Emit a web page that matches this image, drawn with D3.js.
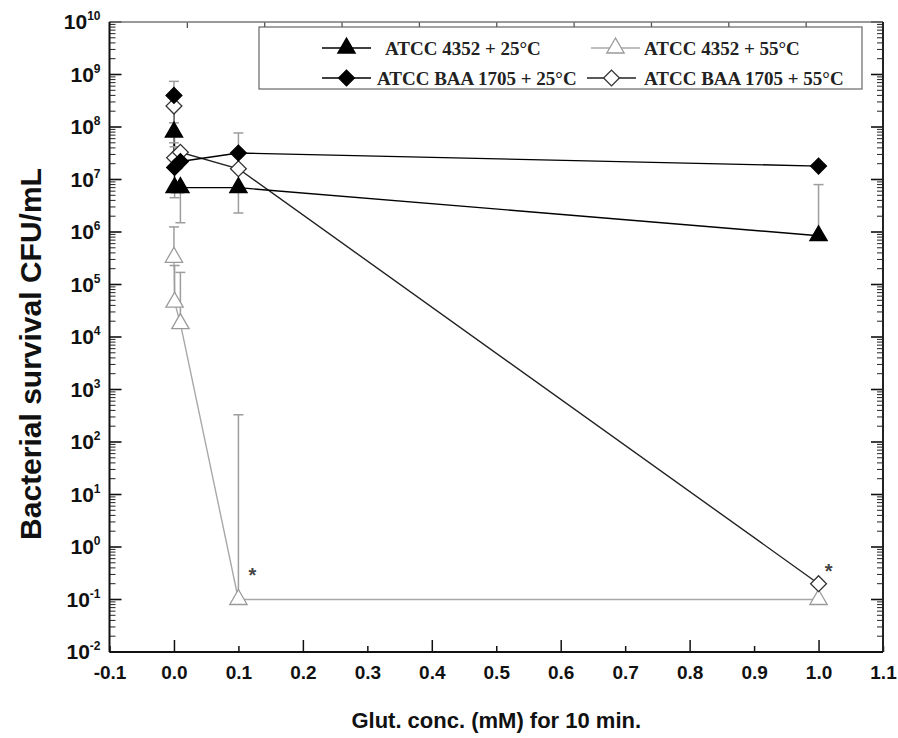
<!DOCTYPE html>
<html>
<head>
<meta charset="utf-8">
<script src="https://cdn.jsdelivr.net/npm/d3@7"></script>
<style>
  body { margin: 0; background: #fff; }
  svg text { font-family: "Liberation Sans", Arial, sans-serif; }
</style>
</head>
<body>
<div id="chart"></div>
<script>
// glutaraldehyde concentrations (mM)
const concs = [0, 0.001, 0.01, 0.1, 1.0];

// CFU/mL values, one array per series
const tri25 = [8e7, 7e6, 7e6, 7e6, 8.5e5];
const tri25Err = [5e7, 4.5e6, 1.5e6, 2.3e6, 8e6];
const tri55 = [3.3e5, 4.6e4, 1.8e4, 0.1, 0.1];
const tri55Err = [1.25e6, 2.3e5, 1.7e5, 330, null];
const dia25 = [4e8, 1.7e7, 2.2e7, 3.2e7, 1.8e7];
const dia25Err = [7.4e8, null, null, 7.7e7, null];
const dia55 = [2.5e8, 2.6e7, 3.3e7, 1.6e7, 0.2];
const dia55Err = [1.2e8, 4.2e7, null, null, null];

const seriesNames = ["ATCC 4352 + 25°C", "ATCC 4352 + 55°C", "ATCC BAA 1705 + 25°C", "ATCC BAA 1705 + 55°C"];
const xTicks = [-0.1, 0.0, 0.1, 0.2, 0.3, 0.4, 0.5, 0.6, 0.7, 0.8, 0.9, 1.0, 1.1];
const yExps = [-2, -1, 0, 1, 2, 3, 4, 5, 6, 7, 8, 9, 10];
const starPoints = [[0.1, 0.1], [1.0, 0.2]];

const W = 898, H = 738;
const margin = {top: 22, right: 15, bottom: 86, left: 109.5};
const plotW = W - margin.left - margin.right,
      plotH = H - margin.top - margin.bottom;

const svg = d3.select("#chart").append("svg")
  .attr("width", W).attr("height", H);
const g = svg.append("g")
  .attr("transform", "translate(" + margin.left + "," + margin.top + ")");

const xScale = d3.scaleLinear().domain([-0.1, 1.1]).range([0, plotW]);
const yScale = d3.scaleLog().domain([1e-2, 1e10]).range([plotH, 0]);

// series table built from the arrays above
const series = [
  {name: seriesNames[0], vals: tri25, err: tri25Err, shape: "tri", fill: "#000", stroke: "#000", line: "#000", order: 2},
  {name: seriesNames[1], vals: tri55, err: tri55Err, shape: "tri", fill: "#fff", stroke: "#9a9a9a", line: "#a8a8a8", order: 0},
  {name: seriesNames[2], vals: dia25, err: dia25Err, shape: "dia", fill: "#000", stroke: "#000", line: "#000", order: 3},
  {name: seriesNames[3], vals: dia55, err: dia55Err, shape: "dia", fill: "#fff", stroke: "#333", line: "#222", order: 1}
];

function markerPath(shape) {
  if (shape === "tri") return d3.symbol(d3.symbolTriangle, 130)();
  return d3.symbol(d3.symbolSquare, 125)();
}
function markerTransform(shape, x, y) {
  return "translate(" + x + "," + y + ")" + (shape === "dia" ? " rotate(45)" : "");
}

// ---- bottom axis (ticks pointing inward) ----
const xAxis = g.append("g")
  .attr("transform", "translate(0," + plotH + ")")
  .call(d3.axisBottom(xScale).tickValues(xTicks).tickSizeInner(-6).tickSizeOuter(0).tickPadding(14)
    .tickFormat(d => d.toFixed(1)));
xAxis.select(".domain").remove();
xAxis.selectAll(".tick line")
  .attr("y2", d => (Math.round(d * 10) % 2 === 0 && d >= 0 && d < 1.05) ? -12 : -6)
  .attr("stroke", "#111").attr("stroke-width", 1.5);
xAxis.selectAll(".tick text")
  .style("font-size", "19px").style("font-weight", "bold").attr("fill", "#111");

// ---- top axis: its own 10 divisions ----
const topScale = d3.scaleLinear().domain([0, 10]).range([0, plotW]);
const topAxis = g.append("g")
  .call(d3.axisTop(topScale).tickValues(d3.range(1, 10)).tickSizeInner(-6).tickSizeOuter(0).tickFormat(""));
topAxis.select(".domain").remove();
topAxis.selectAll(".tick line")
  .attr("y2", d => d % 2 === 0 ? 10 : 6)
  .attr("stroke", "#555").attr("stroke-width", 1.3);

// ---- left and right log axes with minor ticks ----
const minorVals = [];
yExps.slice(0, -1).forEach(e => { for (let m = 2; m <= 9; m++) minorVals.push(m * Math.pow(10, e)); });
const majorVals = yExps.map(e => Math.pow(10, e));

[["left", 0, 1], ["right", plotW, -1]].forEach(([side, x0, dir]) => {
  const ax = g.append("g").attr("class", "y-" + side);
  ax.selectAll("line.minor").data(minorVals).enter().append("line")
    .attr("x1", x0).attr("x2", x0 + dir * 6)
    .attr("y1", d => yScale(d)).attr("y2", d => yScale(d))
    .attr("stroke", "#222").attr("stroke-width", 1);
  ax.selectAll("line.major").data(majorVals).enter().append("line")
    .attr("x1", x0).attr("x2", x0 + dir * 12)
    .attr("y1", d => yScale(d)).attr("y2", d => yScale(d))
    .attr("stroke", "#111").attr("stroke-width", 1.6);
});

const yLabels = g.append("g").selectAll("text").data(yExps).enter().append("text")
  .attr("x", -9).attr("y", d => yScale(Math.pow(10, d)) + 7)
  .attr("text-anchor", "end")
  .style("font-size", "21px").style("font-weight", "bold").attr("fill", "#111");
yLabels.append("tspan").text("10");
yLabels.append("tspan").attr("dy", -9).style("font-size", "12px").text(d => d);

// ---- frame ----
g.append("line").attr("x1", 0).attr("x2", plotW).attr("y1", 0).attr("y2", 0)
  .attr("stroke", "#777").attr("stroke-width", 1.5);
g.append("line").attr("x1", plotW).attr("x2", plotW).attr("y1", 0).attr("y2", plotH)
  .attr("stroke", "#222").attr("stroke-width", 2);
g.append("line").attr("x1", 0).attr("x2", plotW).attr("y1", plotH).attr("y2", plotH)
  .attr("stroke", "#111").attr("stroke-width", 2);
g.append("line").attr("x1", 0).attr("x2", 0).attr("y1", 0).attr("y2", plotH)
  .attr("stroke", "#111").attr("stroke-width", 2);

// ---- lines ----
const lineGen = d3.line().x((d, i) => xScale(concs[i])).y(d => yScale(d));
const ordered = series.slice().sort((a, b) => a.order - b.order);

ordered.forEach(s => {
  g.append("path").datum(s.vals)
    .attr("d", lineGen).attr("fill", "none")
    .attr("stroke", s.line).attr("stroke-width", 1.4);
});

// ---- error bars (one-sided) ----
ordered.forEach(s => {
  const eb = g.append("g");
  s.err.forEach((e, i) => {
    if (e == null) return;
    const x = xScale(concs[i]);
    eb.append("line").attr("x1", x).attr("x2", x)
      .attr("y1", yScale(s.vals[i])).attr("y2", yScale(e))
      .attr("stroke", "#9d9d9d").attr("stroke-width", 1.5);
    eb.append("line").attr("x1", x - 5).attr("x2", x + 5)
      .attr("y1", yScale(e)).attr("y2", yScale(e))
      .attr("stroke", "#9d9d9d").attr("stroke-width", 1.5);
  });
});

// ---- markers ----
ordered.forEach(s => {
  g.append("g").selectAll("path").data(s.vals).enter().append("path")
    .attr("d", markerPath(s.shape))
    .attr("transform", (d, i) => markerTransform(s.shape, xScale(concs[i]), yScale(d)))
    .attr("fill", s.fill).attr("stroke", s.stroke).attr("stroke-width", 1.3);
});

// ---- significance stars ----
g.selectAll("text.star").data(starPoints).enter().append("text")
  .attr("class", "star")
  .attr("x", d => xScale(d[0]) + (d[1] < 0.15 ? 14 : 10))
  .attr("y", d => yScale(d[1]) - (d[1] < 0.15 ? 18 : 6))
  .attr("text-anchor", "middle")
  .style("font-size", "20px").style("font-weight", "bold").attr("fill", "#444")
  .text("*");

// ---- legend ----
const legend = svg.append("g").attr("transform", "translate(259,27)");
legend.append("rect").attr("width", 603).attr("height", 62)
  .attr("fill", "#fff").attr("stroke", "#666").attr("stroke-width", 1.2);
const legPos = [[63, 21], [332, 21], [63, 51], [328, 51]];
const legTextX = [63, 53, 55, 57];
series.forEach((s, i) => {
  const [lx, ly] = legPos[i];
  const item = legend.append("g").attr("transform", "translate(" + lx + "," + ly + ")");
  item.append("line").attr("x1", 0).attr("x2", 49).attr("y1", 0).attr("y2", 0)
    .attr("stroke", s.line).attr("stroke-width", 1.4);
  item.append("path").attr("d", markerPath(s.shape))
    .attr("transform", markerTransform(s.shape, 24.5, 0))
    .attr("fill", s.fill).attr("stroke", s.stroke).attr("stroke-width", 1.3);
  item.append("text").attr("x", legTextX[i]).attr("y", 6.5)
    .style("font-family", "'Liberation Serif', 'Times New Roman', serif")
    .style("font-size", "19px").style("font-weight", "bold").attr("fill", "#222")
    .text(s.name);
});

// ---- axis titles ----
svg.append("text")
  .attr("transform", "translate(41," + (margin.top + plotH / 2 + 17) + ") rotate(-90)")
  .attr("text-anchor", "middle")
  .style("font-size", "30px").style("font-weight", "bold").attr("fill", "#111")
  .text("Bacterial survival CFU/mL");
svg.append("text")
  .attr("x", margin.left + plotW / 2).attr("y", 728)
  .attr("text-anchor", "middle")
  .style("font-size", "22px").style("font-weight", "bold").attr("fill", "#111")
  .text("Glut. conc. (mM) for 10 min.");
</script>
</body>
</html>
